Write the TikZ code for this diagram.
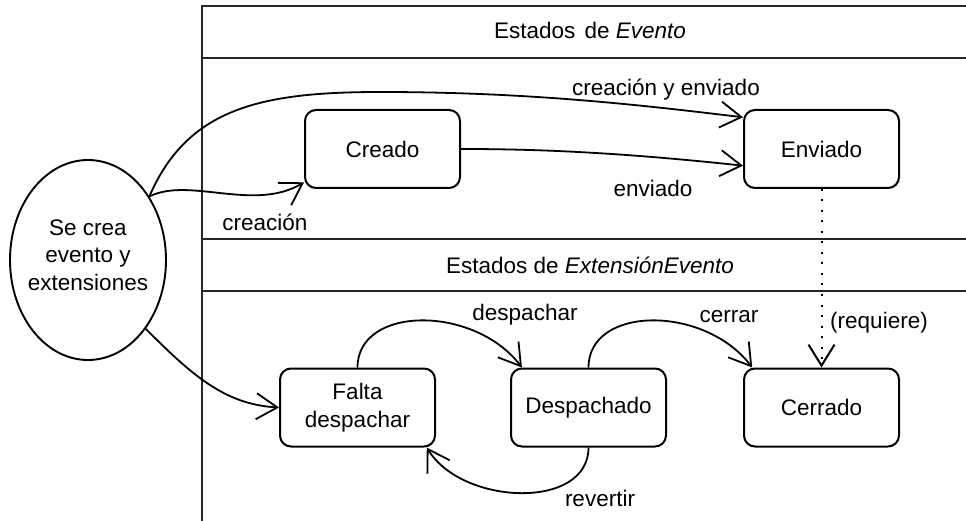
\documentclass[tikz,border=0pt]{standalone}
\usepackage{fontspec}
\setmainfont{Liberation Sans}
\usetikzlibrary{shapes.geometric,arrows.meta}

\begin{document}
\begin{tikzpicture}[x=1pt,y=-1pt,>={Straight Barb[length=21pt,width=26pt]},
	every node/.style={font=\fontsize{22.5}{27.5}\selectfont},
	estado/.style={draw,line width=2pt,rounded corners=11pt,minimum width=155pt,minimum height=78pt,align=center,inner sep=0pt},
	marco/.style={line width=2.6pt,black!85},
	flecha/.style={line width=1.8pt,->}]
	\useasboundingbox (0,0) rectangle (966,521);
	% marco de las dos regiones
	\draw [marco] (202,521) -- (202,6) -- (966,6);
	\draw [marco] (202,58) -- (966,58);
	\draw [marco] (202,239) -- (966,239);
	\draw [marco] (202,291) -- (966,291);
	\node (tituloevento) at (590,30) {Estados\hspace{3pt} de \textit{Evento}};
	\node (tituloextension) at (590,265) {Estados de \textit{ExtensiónEvento}};
	% estados
	\node [draw, ellipse, line width=1.9pt, minimum width=156pt, minimum height=200pt, inner sep=0pt] (origen) at (88,260) {};
	\node [align=center] (origentexto) at (88,255) {Se crea\\evento y\\extensiones};
	\node [estado] (creado) at (382.5,149) {Creado};
	\node [estado] (enviado) at (821.5,149) {Enviado};
	\node [estado] (falta) at (357.5,407.5) {Falta\\despachar};
	\node [estado] (despachado) at (588.5,407.5) {Despachado};
	\node [estado] (cerrado) at (821.5,407.5) {Cerrado};
	% transiciones
	\draw [flecha] (origen.46) .. controls +(38,-88) and +(-120,0) .. (380,92) .. controls +(150,0) and +(-100,-12) .. (enviado.158);
	\draw [flecha] (origen.46) .. controls +(40,-20) and +(-50,30) .. (creado.203);
	\draw [flecha] (creado.east) .. controls +(70,0) and +(-130,-14) .. (enviado.192);
	\draw [flecha] (origen.-50) .. controls +(45,45) and +(-55,-3) .. (falta.west);
	\draw [flecha] (falta.north) .. controls +(0,-62) and +(-48,-63) .. (despachado.149);
	\draw [flecha] (despachado.north) .. controls +(0,-62) and +(-48,-63) .. (cerrado.150);
	\draw [flecha] (despachado.south) .. controls +(0,63) and +(35,58) .. (falta.-30);
	\draw [line width=2pt, dash pattern=on 2pt off 8.5pt, ->] (enviado.south) -- (cerrado.north);
	% etiquetas
	\node (lblcreacionenviado) at (666,90) {creación y enviado};
	\node (lblcreacion) at (265,222) {creación};
	\node (lblenviado) at (653,188) {enviado};
	\node (lbldespachar) at (525,315) {despachar};
	\node (lblcerrar) at (729,317) {cerrar};
	\node (lblrevertir) at (600,498) {revertir};
	\node (lblrequiere) at (879,323) {(requiere)};
\end{tikzpicture}
\end{document}
